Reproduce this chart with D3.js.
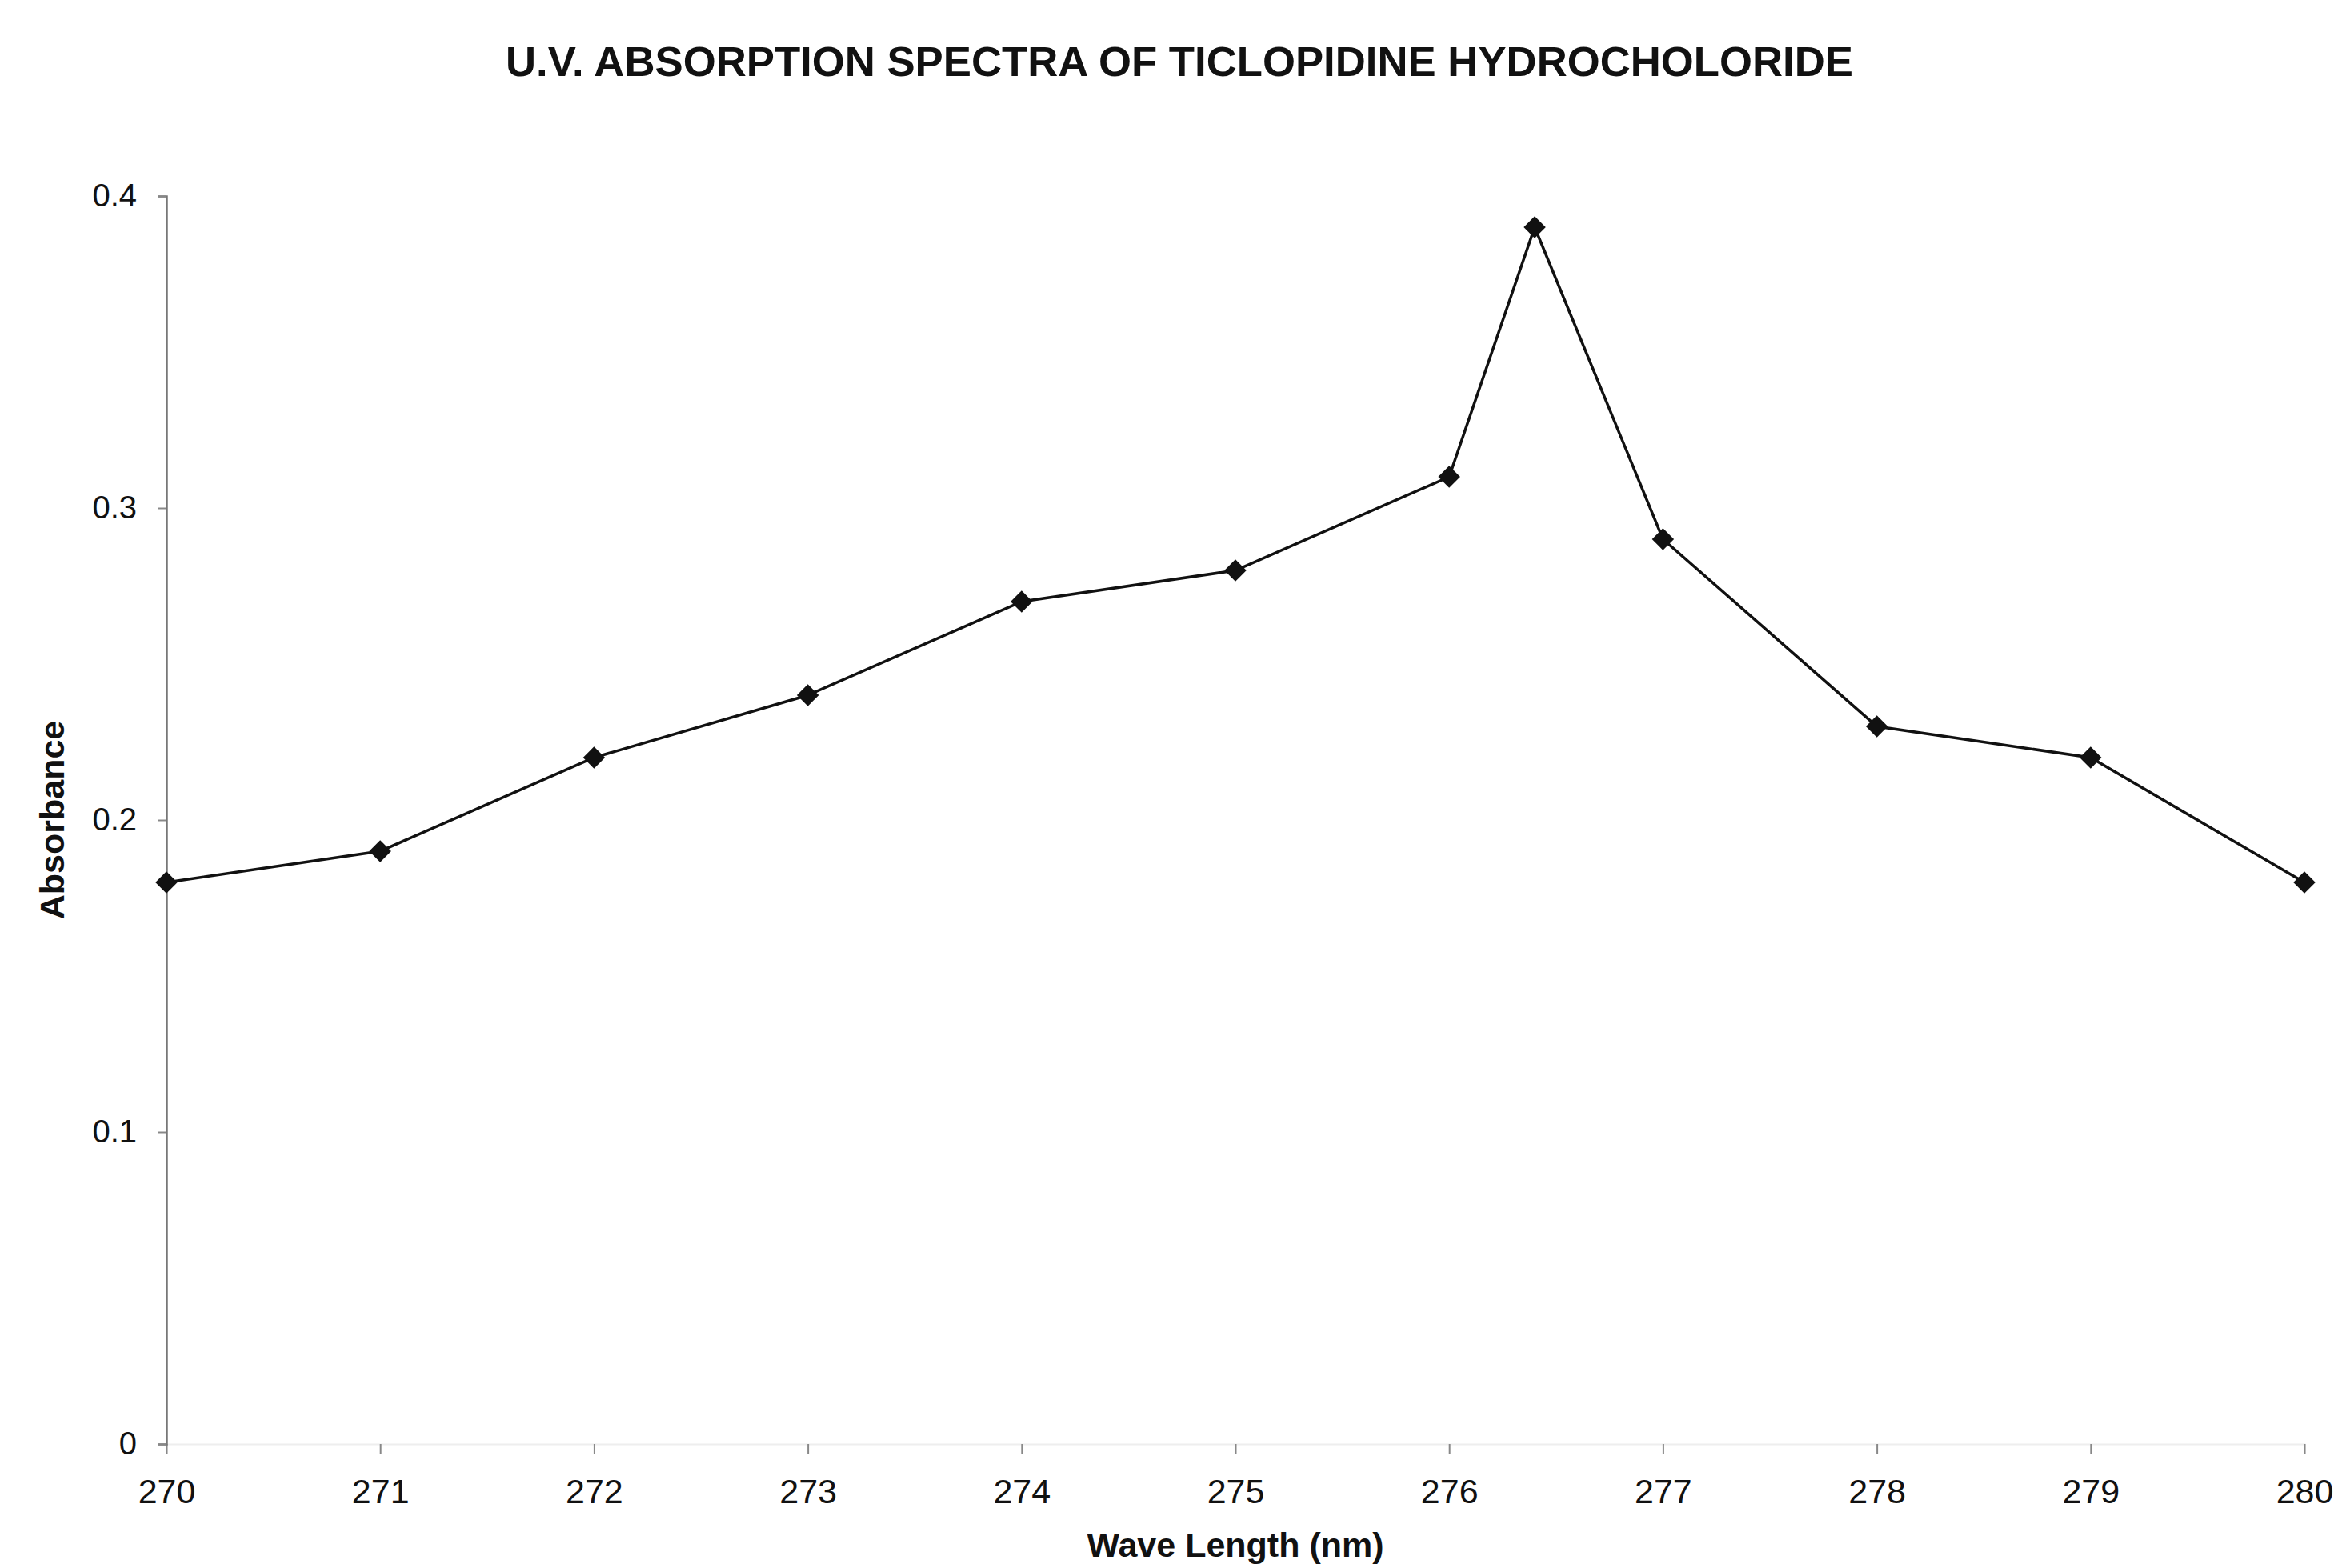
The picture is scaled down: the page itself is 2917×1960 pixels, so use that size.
<!DOCTYPE html>
<html>
<head>
<meta charset="utf-8">
<script src="https://cdn.jsdelivr.net/npm/d3@7"></script>
<style>
  body { margin: 0; background: #fff; }
  text { font-family: "Liberation Sans", Arial, sans-serif; fill: #111; }
</style>
</head>
<body>
<div id="chart"></div>
<script>
// data
var wavelengths = [270, 271, 272, 273, 274, 275, 276, 276.4, 277, 278, 279, 280];
var absorbance = [0.18, 0.19, 0.22, 0.24, 0.27, 0.28, 0.31, 0.39, 0.29, 0.23, 0.22, 0.18];
var xTicks = [270, 271, 272, 273, 274, 275, 276, 277, 278, 279, 280];
var yTicks = [0, 0.1, 0.2, 0.3, 0.4];

var svgWidth = 2917;
var svgHeight = 1960;

var margin = {
  top: 245,
  right: 37,
  bottom: 155,
  left: 208
};

var width = svgWidth - margin.left - margin.right;
var height = svgHeight - margin.top - margin.bottom;

var svg = d3.select("#chart")
  .append("svg")
  .attr("width", svgWidth)
  .attr("height", svgHeight);

var chartGroup = svg.append("g")
  .attr("transform", `translate(${margin.left}, ${margin.top})`);

var points = wavelengths.map(function(w, i) {
  return { wl: w, abs: absorbance[i] };
});

// scales
var xLinearScale = d3.scaleLinear()
  .domain([270, 280])
  .range([0, width]);

var yLinearScale = d3.scaleLinear()
  .domain([0, 0.4])
  .range([height, 0]);

// axes
var bottomAxis = d3.axisBottom(xLinearScale)
  .tickValues(xTicks)
  .tickSize(13)
  .tickPadding(30)
  .tickFormat(d3.format("d"));

var leftAxis = d3.axisLeft(yLinearScale)
  .tickValues(yTicks)
  .tickSize(11)
  .tickPadding(26)
  .tickFormat(d => d === 0 ? "0" : d3.format(".1f")(d));

var xAxisG = chartGroup.append("g")
  .attr("transform", `translate(0, ${height})`)
  .call(bottomAxis);
xAxisG.select(".domain").attr("stroke", "#eeeeee").attr("stroke-width", 2);
xAxisG.selectAll(".tick line").attr("stroke", "#888").attr("stroke-width", 2);
xAxisG.selectAll(".tick text")
  .style("font-size", "43px")
  .style("font-family", "'Liberation Sans', Arial, sans-serif")
  .attr("fill", "#111");

var yAxisG = chartGroup.append("g")
  .call(leftAxis);
yAxisG.select(".domain").attr("stroke", "#777").attr("stroke-width", 2.5);
yAxisG.selectAll(".tick line").attr("stroke", "#888").attr("stroke-width", 2);
yAxisG.selectAll(".tick text")
  .style("font-size", "40px")
  .style("font-family", "'Liberation Sans', Arial, sans-serif")
  .attr("fill", "#111");

// line
var line = d3.line()
  .x(d => xLinearScale(d.wl))
  .y(d => yLinearScale(d.abs));

chartGroup.append("path")
  .datum(points)
  .attr("fill", "none")
  .attr("stroke", "#111")
  .attr("stroke-width", 3.5)
  .attr("d", line);

// diamond markers
chartGroup.selectAll(".marker")
  .data(points)
  .enter()
  .append("path")
  .attr("class", "marker")
  .attr("d", d3.symbol().type(d3.symbolDiamond2).size(480))
  .attr("transform", d => `translate(${xLinearScale(d.wl)}, ${yLinearScale(d.abs)})`)
  .attr("fill", "#111");

// title
svg.append("text")
  .attr("x", 1474)
  .attr("y", 95)
  .attr("text-anchor", "middle")
  .attr("textLength", 1684)
  .attr("lengthAdjust", "spacingAndGlyphs")
  .style("font-size", "51px")
  .style("font-weight", "bold")
  .text("U.V. ABSORPTION SPECTRA OF TICLOPIDINE HYDROCHOLORIDE");

// axis labels
svg.append("text")
  .attr("transform", `translate(80, ${margin.top + height / 2}) rotate(-90)`)
  .attr("text-anchor", "middle")
  .style("font-size", "43px")
  .style("font-weight", "bold")
  .text("Absorbance");

svg.append("text")
  .attr("x", margin.left + width / 2)
  .attr("y", 1946)
  .attr("text-anchor", "middle")
  .style("font-size", "43px")
  .style("font-weight", "bold")
  .text("Wave Length (nm)");
</script>
</body>
</html>
